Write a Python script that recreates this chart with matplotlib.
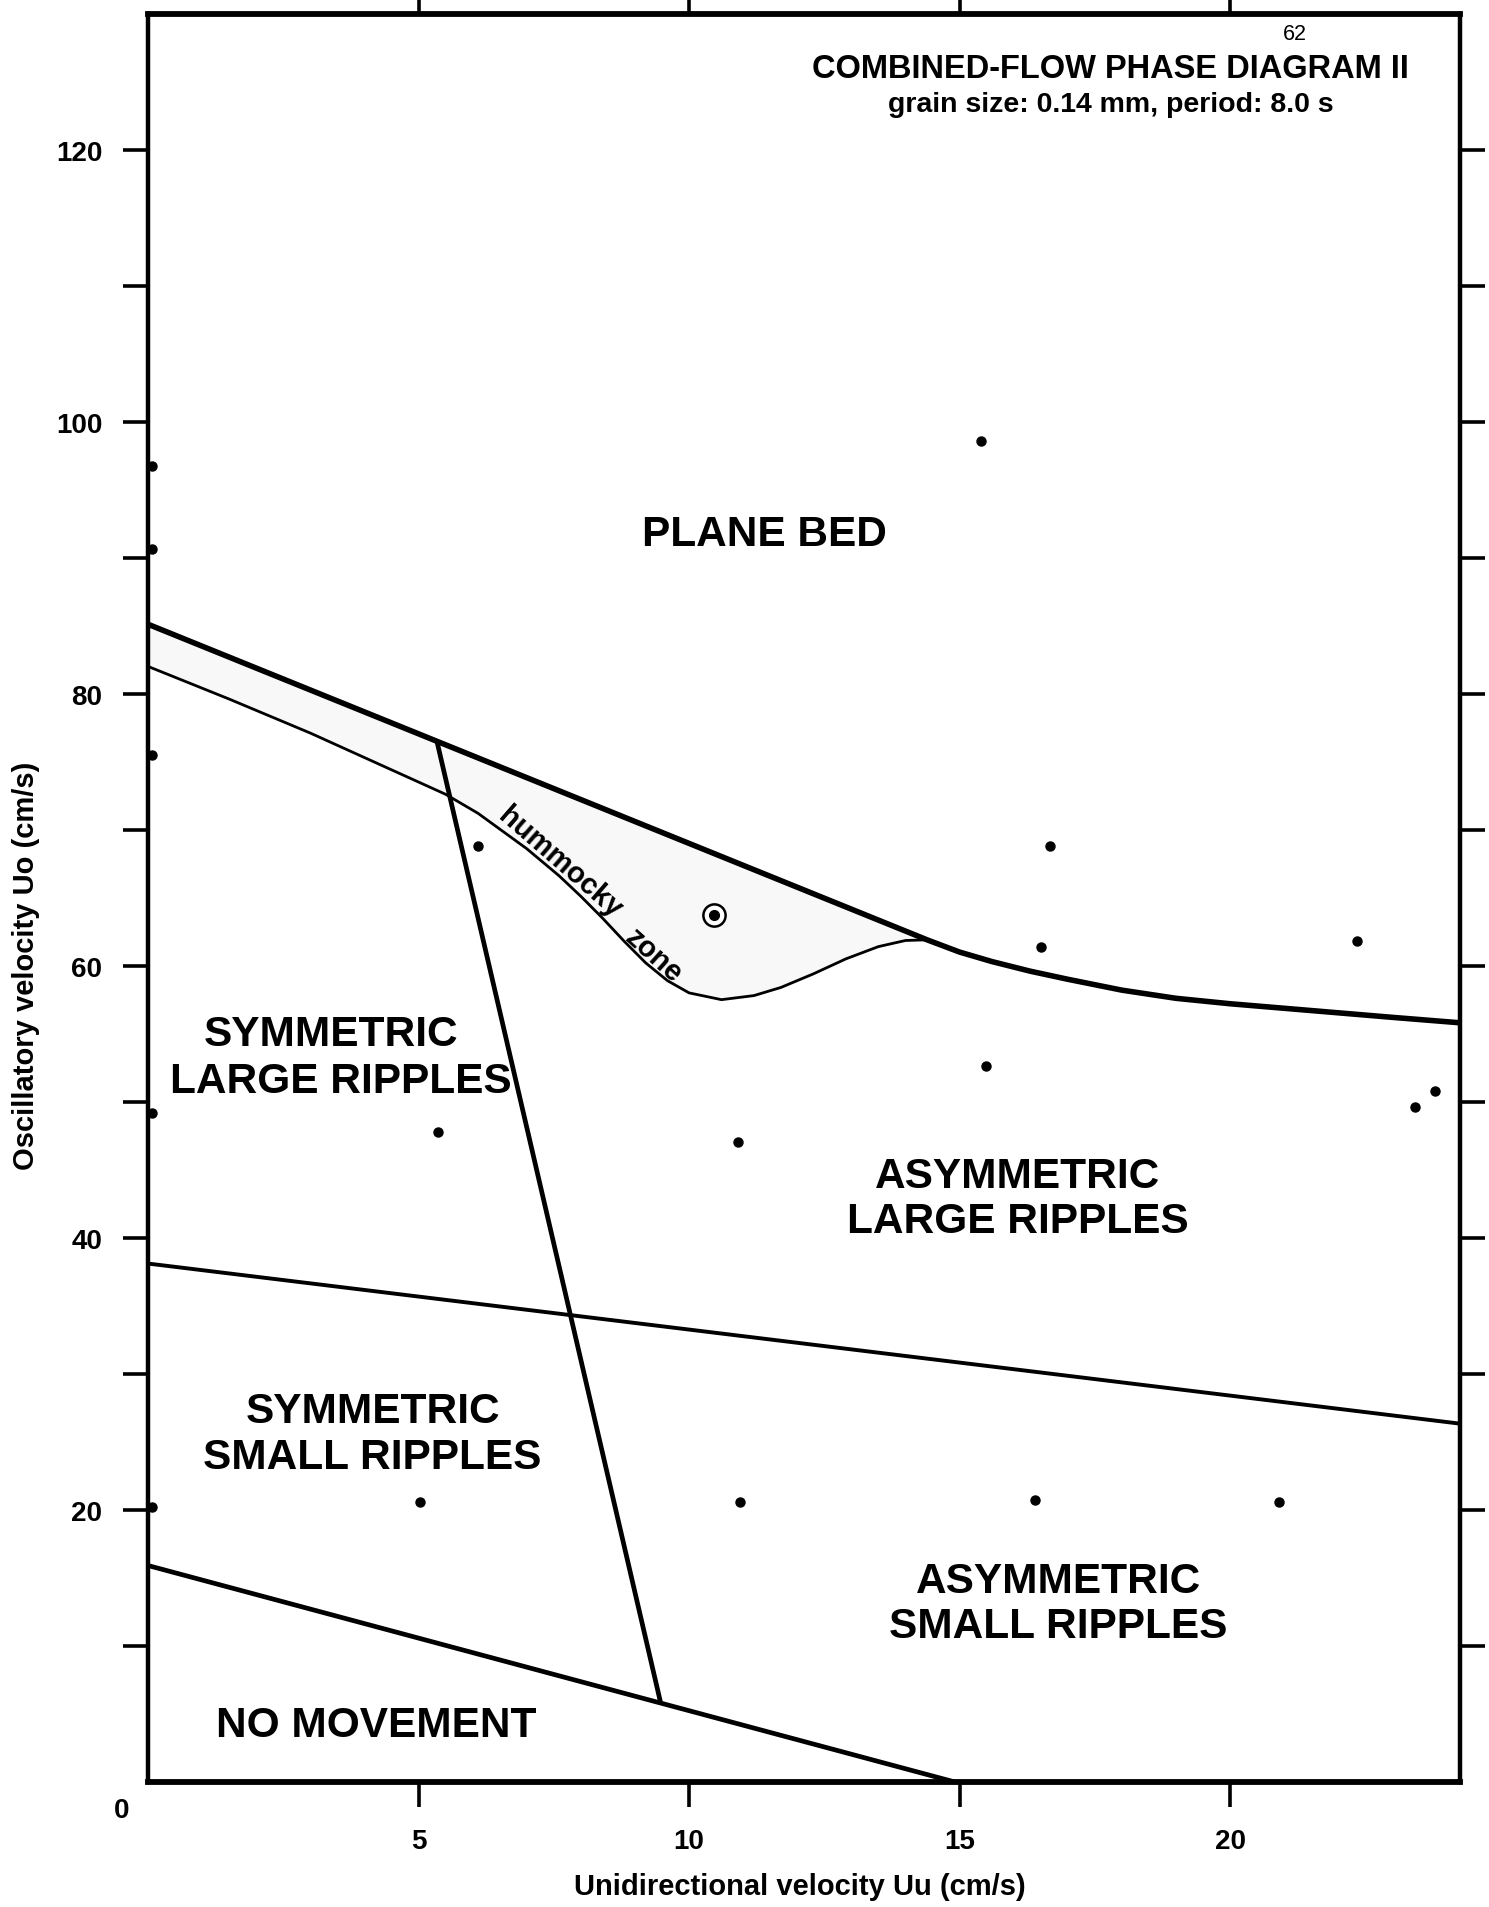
import matplotlib
matplotlib.use("Agg")
import matplotlib.pyplot as plt

plt.rcParams['font.family'] = ['Liberation Sans', 'DejaVu Sans']

# ---- boundary curves (Uu in cm/s, Uo in cm/s) ----
plane_bed_x = [0.0, 14.4, 15.0, 15.6, 16.3, 17.0, 18.0, 19.0, 20.0, 21.5, 23.0, 24.25]
plane_bed_y = [85.1, 61.9, 61.0, 60.3, 59.6, 59.0, 58.2, 57.6, 57.2, 56.7, 56.2, 55.8]

hummocky_x = [0.0, 1.5, 3.0, 4.5, 5.5, 6.1, 7.0, 7.6, 8.0, 8.4, 8.8, 9.2, 9.6, 10.0,
              10.6, 11.2, 11.7, 12.3, 12.9, 13.5, 14.0, 14.4]
hummocky_y = [82.0, 79.6, 77.1, 74.4, 72.6, 71.2, 68.6, 66.6, 65.1, 63.5, 61.8, 60.2, 58.9, 58.0,
              57.5, 57.8, 58.4, 59.4, 60.5, 61.4, 61.85, 61.9]

sym_asym_x = [5.34, 9.47]
sym_asym_y = [76.5, 5.9]

large_small_x = [0.0, 24.25]
large_small_y = [38.1, 26.33]

no_movement_x = [0.0, 14.9]
no_movement_y = [15.9, 0.0]

# ---- experimental runs ----
run_x = [0.08, 0.08, 0.08, 0.08, 0.08, 6.10, 5.36, 5.02, 10.90, 10.94,
         15.40, 16.68, 16.50, 15.49, 16.39, 20.90, 22.35, 23.41, 23.79]
run_y = [96.7, 90.6, 75.5, 49.2, 20.2, 68.8, 47.8, 20.55, 47.05, 20.6,
         98.6, 68.8, 61.4, 52.6, 20.7, 20.6, 61.8, 49.6, 50.8]
hcs_x = [10.47]
hcs_y = [63.7]

x_ticks = [5, 10, 15, 20]
x_tick_labels = ['5', '10', '15', '20']
y_ticks = [10, 20, 30, 40, 50, 60, 70, 80, 90, 100, 110, 120]
y_tick_labels = ['', '20', '', '40', '', '60', '', '80', '', '100', '', '120']

fig = plt.figure(figsize=(14.89, 19.08), dpi=100)
ax = fig.add_axes([148 / 1489, 125.2 / 1908, 1312 / 1489, 1768.3 / 1908])
ax.set_xlim(0, 24.25)
ax.set_ylim(0, 130)

# hummocky zone shading between the plane-bed line and the thin curve
zone_x = [plane_bed_x[0], plane_bed_x[1]] + hummocky_x[::-1]
zone_y = [plane_bed_y[0], plane_bed_y[1]] + hummocky_y[::-1]
ax.fill(zone_x, zone_y, facecolor='#f8f8f8', edgecolor='none', zorder=1)

ax.plot(plane_bed_x, plane_bed_y, color='black', lw=4.0, solid_capstyle='butt', zorder=3)
ax.plot(hummocky_x, hummocky_y, color='black', lw=2.0, zorder=3)
ax.plot(sym_asym_x, sym_asym_y, color='black', lw=3.4, solid_capstyle='butt', zorder=3)
ax.plot(large_small_x, large_small_y, color='black', lw=2.8, zorder=3)
ax.plot(no_movement_x, no_movement_y, color='black', lw=3.4, solid_capstyle='butt', zorder=3)

ax.plot(run_x, run_y, 'o', color='black', ms=6.5, clip_on=False, zorder=4)
ax.plot(hcs_x, hcs_y, 'o', mfc='white', mec='black', mew=1.8, ms=16, zorder=4)
ax.plot(hcs_x, hcs_y, 'o', color='black', ms=7, zorder=5)

# region labels
region_kw = dict(fontsize=30.5, fontweight='bold', ha='center', va='baseline', zorder=6)
ax.text(11.39, 90.94, 'PLANE BED', **region_kw)
ax.text(3.39, 54.15, 'SYMMETRIC', **region_kw)
ax.text(3.57, 50.74, 'LARGE RIPPLES', **region_kw)
ax.text(16.08, 43.76, 'ASYMMETRIC', **region_kw)
ax.text(16.08, 40.45, 'LARGE RIPPLES', **region_kw)
ax.text(4.15, 26.48, 'SYMMETRIC', **region_kw)
ax.text(4.15, 23.08, 'SMALL RIPPLES', **region_kw)
ax.text(16.82, 13.95, 'ASYMMETRIC', **region_kw)
ax.text(16.82, 10.64, 'SMALL RIPPLES', **region_kw)
ax.text(4.22, 3.38, 'NO MOVEMENT', **region_kw)

ax.text(7.62, 67.6, 'hummocky', fontsize=21, fontweight='bold', rotation=-41,
        rotation_mode='anchor', ha='center', va='center', zorder=6)
ax.text(9.34, 60.8, 'zone', fontsize=21, fontweight='bold', rotation=-42,
        rotation_mode='anchor', ha='center', va='center', zorder=6)

# header
ax.text(17.79, 125.3, 'COMBINED-FLOW PHASE DIAGRAM II', fontsize=23.5,
        fontweight='bold', ha='center', va='baseline')
ax.text(17.80, 122.8, 'grain size: 0.14 mm, period: 8.0 s', fontsize=20.5,
        fontweight='bold', ha='center', va='baseline')
ax.text(21.19, 128.1, '62', fontsize=15.5, ha='center', va='baseline')

# axes styling
for side in ['left', 'right']:
    ax.spines[side].set_linewidth(3.2)
for side in ['top', 'bottom']:
    ax.spines[side].set_linewidth(4.2)

ax.set_xticks(x_ticks)
ax.set_xticklabels(x_tick_labels, fontsize=20, fontweight='bold')
ax.set_yticks(y_ticks)
ax.set_yticklabels(y_tick_labels, fontsize=20, fontweight='bold')
ax.tick_params(axis='x', which='both', direction='out', length=18, width=2.6,
               top=True, bottom=True, labeltop=False, pad=15)
ax.tick_params(axis='y', which='both', direction='out', length=18, width=2.6,
               left=True, right=True, labelright=False, pad=15)

ax.text(-0.48, -2.07, '0', fontsize=20, fontweight='bold', ha='center', va='center',
        clip_on=False)

fig.text(800 / 1489, 1 - 1887 / 1908, 'Unidirectional velocity Uu (cm/s)',
         fontsize=21, fontweight='bold', ha='center', va='center')
fig.text(26 / 1489, 1 - 966 / 1908, 'Oscillatory velocity Uo (cm/s)',
         fontsize=21, fontweight='bold', ha='center', va='center', rotation=90)

fig.savefig('out.png', dpi=100, facecolor='white')
